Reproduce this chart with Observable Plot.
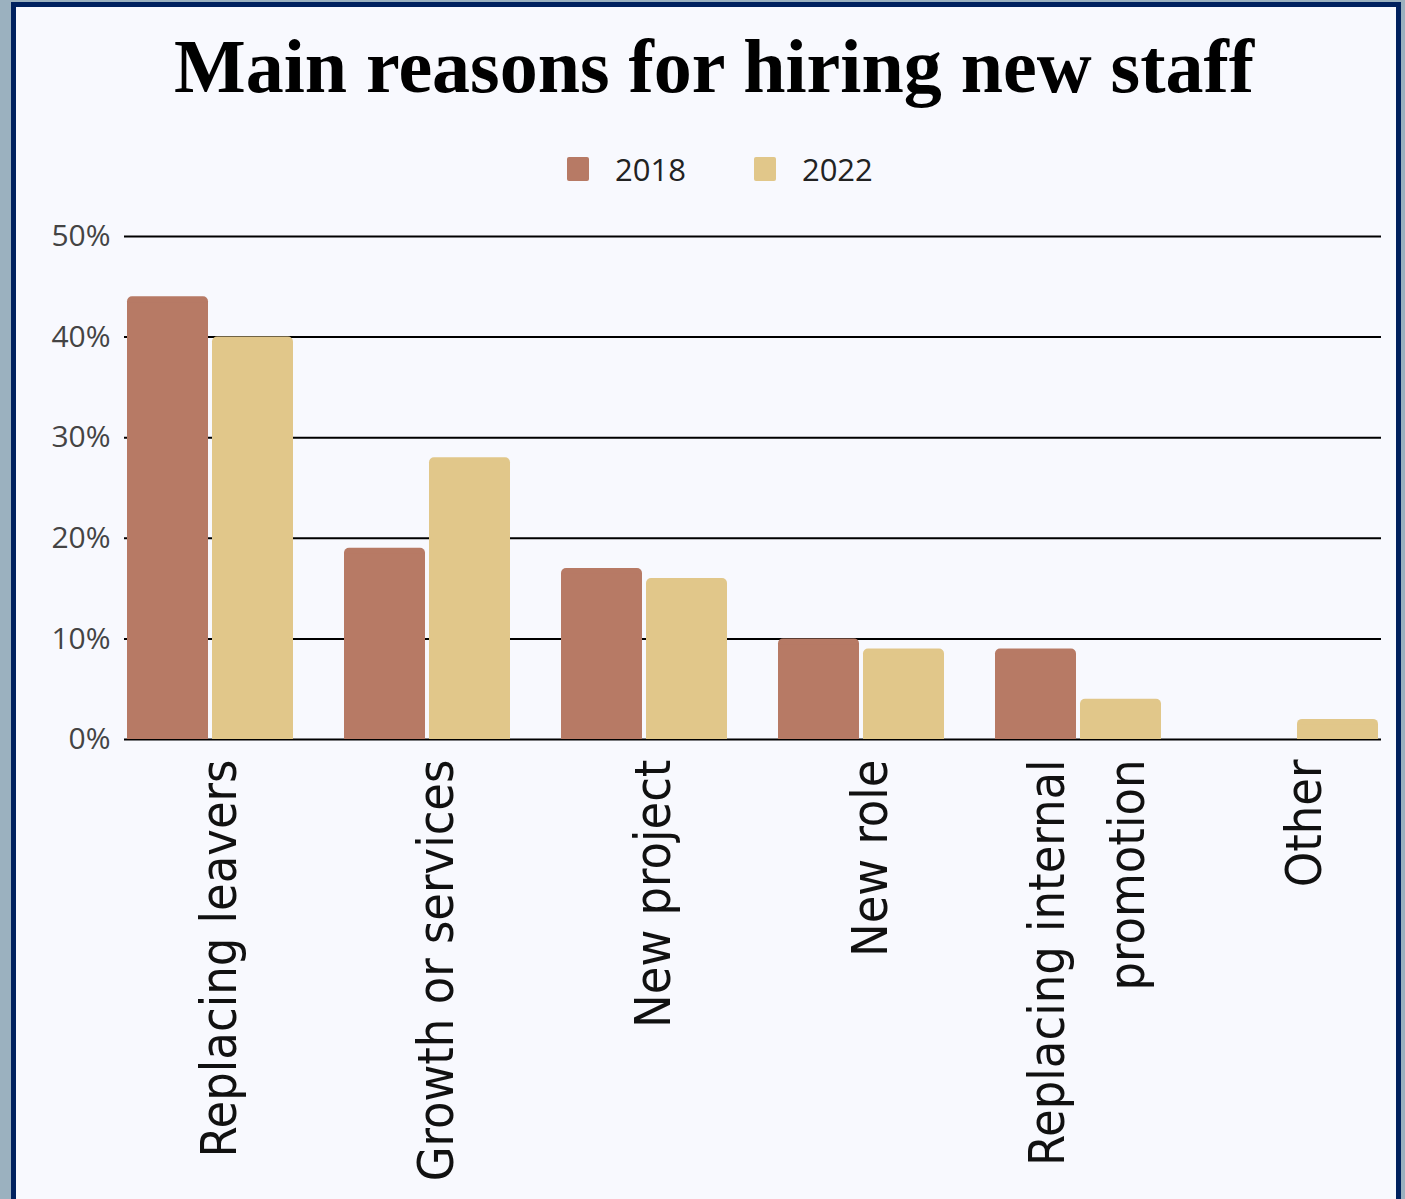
<!DOCTYPE html>
<html><head><meta charset="utf-8">
<script src="https://cdn.jsdelivr.net/npm/d3@7"></script>
<script src="https://cdn.jsdelivr.net/npm/@observablehq/plot@0.6"></script>
<style>
html,body{margin:0;padding:0;}
body{background:#9bb1bf;width:1405px;height:1199px;overflow:hidden;position:relative;}
#panel{position:absolute;left:11px;top:2px;width:1390px;height:1202px;box-sizing:border-box;border:5.5px solid #00215f;background:#f8f9fe;}
#title{position:absolute;left:32px;width:1364px;top:28px;text-align:center;font-family:"Liberation Serif",serif;font-weight:bold;font-size:76px;line-height:76px;color:#000;white-space:nowrap;}
#legend{position:absolute;left:567px;top:152px;height:34px;display:flex;align-items:center;font-family:"Open Sans",sans-serif;font-size:31px;line-height:34px;color:#222;}
#legend .item{display:flex;align-items:center;margin-right:68px;}
#legend .item:last-child{margin-right:0;}
#legend .sw{width:22px;height:24px;border-radius:2px;margin-right:26px;}
#grid,#chart{position:absolute;left:0;top:200px;}
</style></head>
<body>
<div id="panel"></div>
<div id="title">Main reasons for hiring new staff</div>
<div id="legend"></div>
<div id="grid"></div>
<div id="chart"></div>
<script>
const categories = ["Replacing leavers","Growth or services","New project","New role","Replacing internal\npromotion","Other"];
const years = ["2018","2022"];
const values2018 = [44,19,17,10,9,null];
const values2022 = [40,28,16,9,4,2];
const yTicks = [0,10,20,30,40,50];
const colors = ["#b77a65","#e1c78a"];

const rows = [];
categories.forEach((c,i)=>{
  if (values2018[i] != null) rows.push({category:c, year:"2018", value:values2018[i]});
  if (values2022[i] != null) rows.push({category:c, year:"2022", value:values2022[i]});
});

const legend = document.getElementById("legend");
years.forEach((y,i)=>{
  const it = document.createElement("div"); it.className="item";
  const sw = document.createElement("div"); sw.className="sw"; sw.style.background = colors[i];
  const tx = document.createElement("span"); tx.textContent = y;
  it.appendChild(sw); it.appendChild(tx); legend.appendChild(it);
});

const dims = {width: 1405, height: 990, marginLeft: 124, marginRight: 24, marginTop: 36, marginBottom: 451};
const yScale = {domain: [0,50], label: null};

// background layer: gridlines and y axis spanning the whole frame
const grid = Plot.plot({
  ...dims,
  style: {background:"transparent", fontFamily:"'Open Sans', sans-serif", overflow:"visible"},
  y: yScale,
  marks: [
    Plot.ruleY(yTicks, {stroke:"#000", strokeWidth:2}),
    Plot.axisY({ticks: yTicks, tickFormat: d=>d+"%", tickSize:0, tickPadding:14, fontSize:30, fill:"#444", label:null})
  ]
});
document.getElementById("grid").appendChild(grid);

// foreground layer: grouped bars
const chart = Plot.plot({
  ...dims,
  style: {background:"transparent", fontFamily:"'Open Sans', sans-serif", overflow:"visible"},
  fx: {domain: categories, paddingInner: 0.23, paddingOuter: 0, label: null},
  x: {domain: years, paddingInner: 0.05, paddingOuter: 0, axis: null},
  y: {...yScale, axis: null},
  color: {domain: years, range: colors},
  marks: [
    Plot.barY(rows, {fx:"category", x:"year", y:"value", fill:"year", rx:5}),
    Plot.barY(rows, {fx:"category", x:"year", y:"value", fill:"year", insetTop:6}),
    Plot.axisFx({anchor:"bottom", tickRotate:-90, tickSize:0, tickPadding:20, lineHeight:1.6, fontSize:50, fontFamily:"'Liberation Sans Narrow', 'DejaVu Sans Condensed', sans-serif", fill:"#111", label:null})
  ]
});
document.getElementById("chart").appendChild(chart);
</script>
</body></html>
